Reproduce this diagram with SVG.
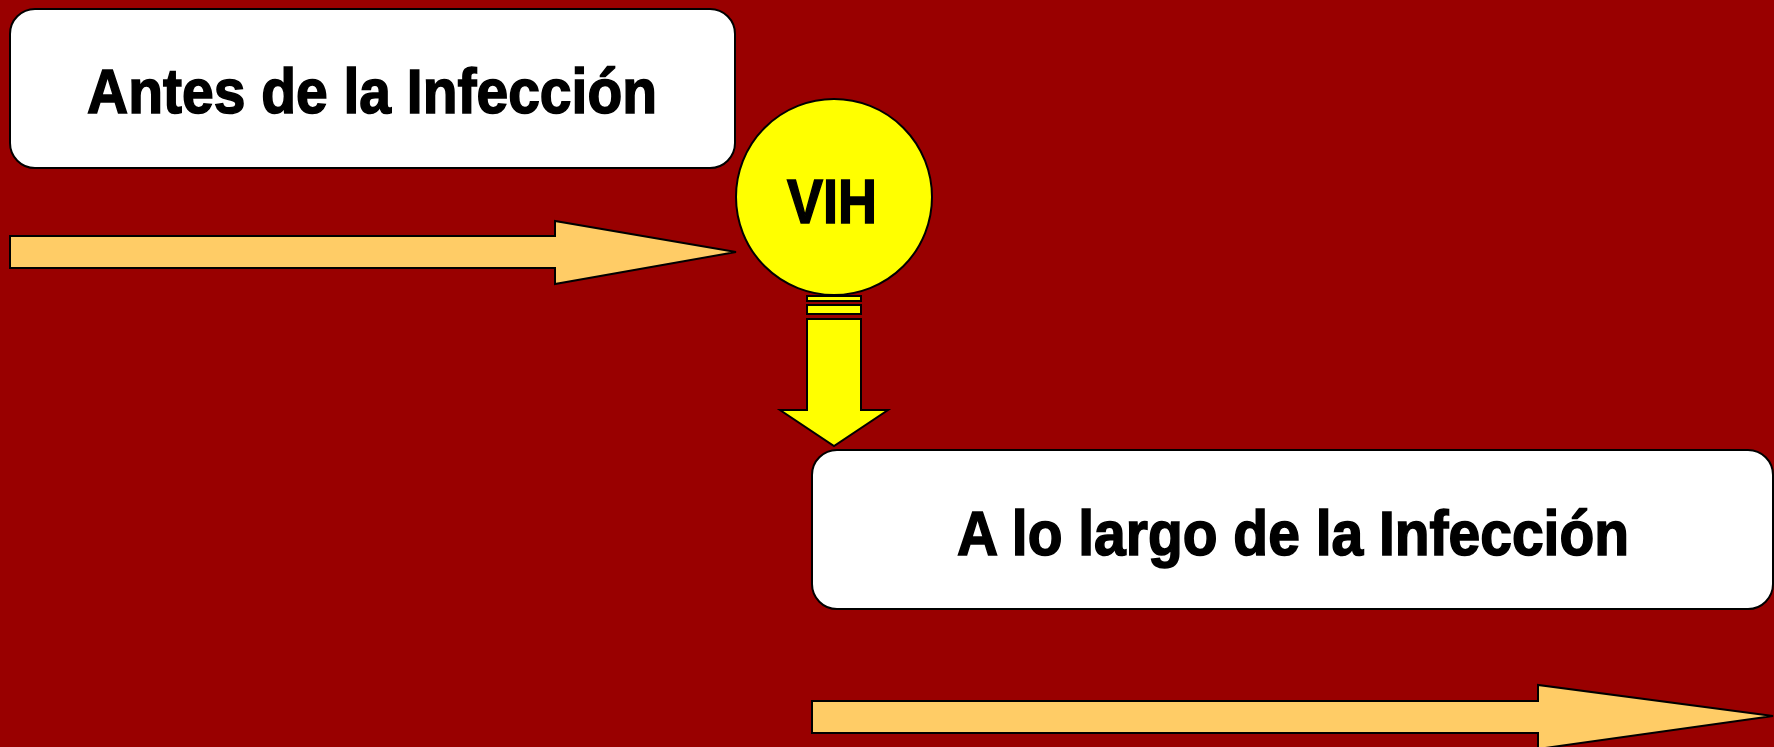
<svg xmlns="http://www.w3.org/2000/svg" width="1774" height="747" viewBox="0 0 1774 747">
<style>
.box{fill:#ffffff;stroke:#000000;stroke-width:2}
.lbl{font-family:"Liberation Sans",Arial,sans-serif;font-weight:bold;fill:#000000;stroke:#000000;stroke-width:1.6;text-anchor:middle}
.tl{fill:#ffcc66;stroke:#000000;stroke-width:2}
.yl{fill:#ffff00;stroke:#000000;stroke-width:2}
</style>
<rect x="0" y="0" width="1774" height="747" fill="#990000"/>
<g id="connectors">
<path class="tl" d="M10,236 L555,236 L555,221 L736,252 L555,284 L555,268 L10,268 Z"/>
<rect class="yl" x="807" y="296" width="54" height="5"/>
<rect class="yl" x="807" y="305" width="54" height="9"/>
<path class="yl" d="M807,319 L861,319 L861,410 L888,410 L834,446 L780,410 L807,410 Z"/>
<path class="tl" d="M812,701 L1538,701 L1538,685 L1773,716 L1538,749 L1538,733 L812,733 Z"/>
</g>
<g id="node-antes">
<rect class="box" x="10" y="9" width="725" height="159" rx="25" ry="25"/>
<text class="lbl" x="372" y="113" font-size="63" textLength="570" lengthAdjust="spacingAndGlyphs">Antes de la Infección</text>
</g>
<g id="node-vih">
<circle class="yl" cx="834" cy="197" r="98"/>
<text class="lbl" x="832" y="223" font-size="63" textLength="90" lengthAdjust="spacingAndGlyphs">VIH</text>
</g>
<g id="node-largo">
<rect class="box" x="812" y="450" width="961" height="159" rx="25" ry="25"/>
<text class="lbl" x="1293" y="555" font-size="63" textLength="672" lengthAdjust="spacingAndGlyphs">A lo largo de la Infección</text>
</g>
</svg>
